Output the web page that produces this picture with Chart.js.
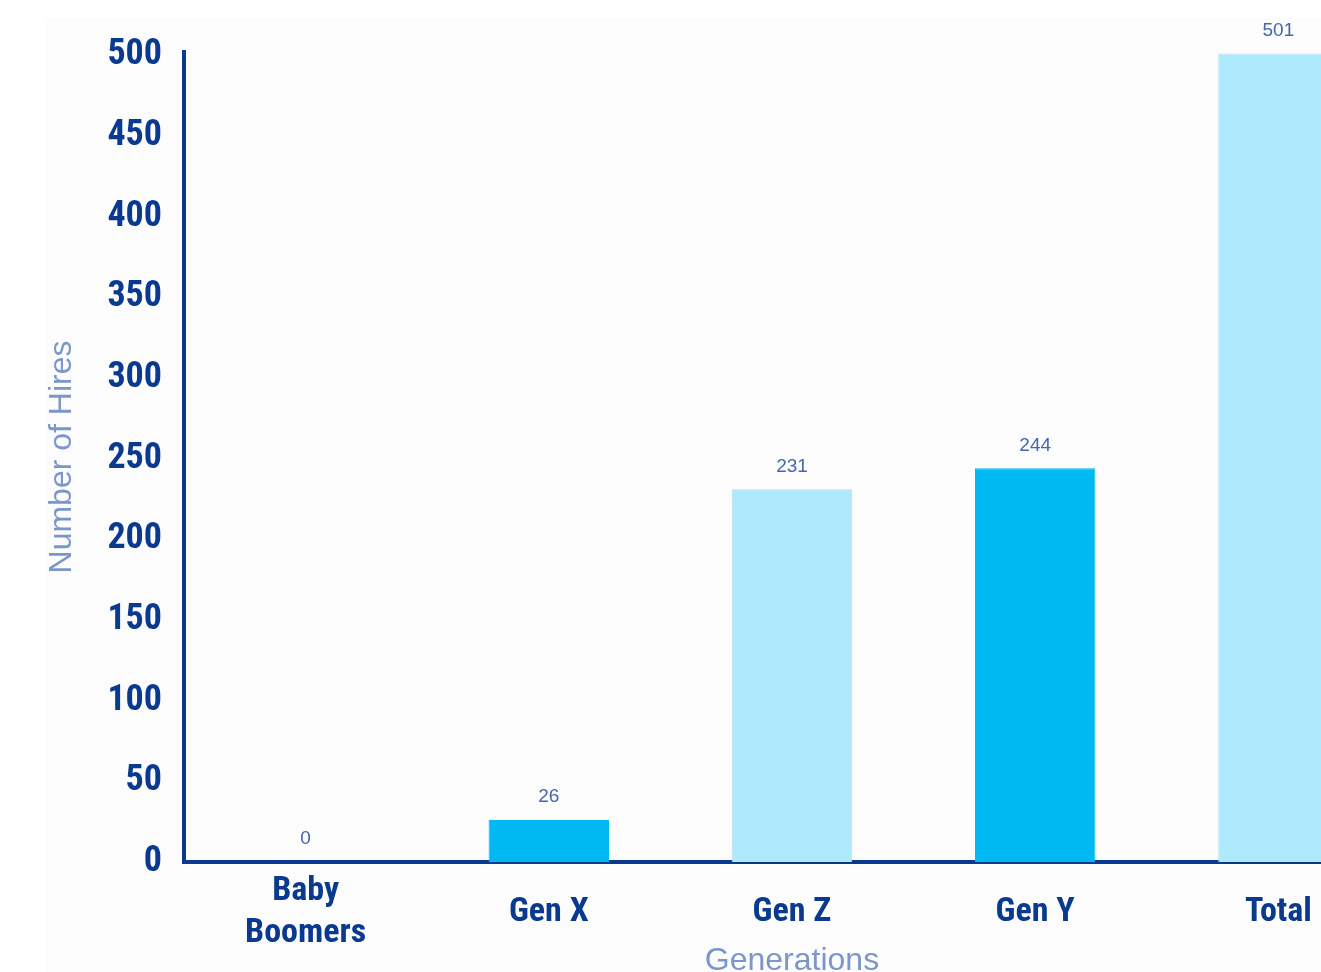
<!DOCTYPE html>
<html>
<head>
<meta charset="utf-8">
<title>Number of Hires by Generation</title>
<script src="https://cdn.jsdelivr.net/npm/chart.js@4.4.1/dist/chart.umd.min.js"></script>
<style>
  html, body { margin: 0; padding: 0; background: #ffffff; overflow: hidden; }
  #wrap { position: absolute; left: 0; top: 0; width: 1400px; height: 980px; }
</style>
</head>
<body>
<div id="wrap"><canvas id="hires-chart" width="1400" height="980"></canvas></div>
<script>
var generations = [['Baby', 'Boomers'], 'Gen X', 'Gen Z', 'Gen Y', 'Total'];
var hires = [0, 26, 231, 244, 501];
var yTicks = [0, 50, 100, 150, 200, 250, 300, 350, 400, 450, 500];

var navy = '#0a3990';
var barFill = ['#00b9f2', '#00b9f2', '#aeeafd', '#00b9f2', '#aeeafd'];
var barEdge = ['#00b9f2', '#00b9f2', '#bcdbe8', '#00b9f2', '#bcdbe8'];
var condensed = '"Liberation Sans Narrow", "Roboto Condensed", "DejaVu Sans Condensed", sans-serif';

// faint panel behind the plot
var panel = {
  id: 'panel',
  beforeDraw: function(chart) {
    var ctx = chart.ctx;
    ctx.save();
    ctx.fillStyle = '#fcfcfd';
    ctx.fillRect(45, 18, chart.width - 45, chart.height - 18);
    ctx.restore();
  }
};

// value printed above each bar
var valueLabels = {
  id: 'valueLabels',
  afterDatasetsDraw: function(chart) {
    var ctx = chart.ctx;
    var meta = chart.getDatasetMeta(0);
    ctx.save();
    ctx.font = '19px "Liberation Sans", Arial, sans-serif';
    ctx.fillStyle = '#4468ad';
    ctx.textAlign = 'center';
    ctx.textBaseline = 'middle';
    meta.data.forEach(function(bar, i) {
      ctx.fillText(String(hires[i]), bar.x, bar.y - 23);
    });
    ctx.restore();
  }
};

new Chart(document.getElementById('hires-chart').getContext('2d'), {
  type: 'bar',
  data: {
    labels: generations,
    datasets: [{
      label: 'Number of Hires',
      data: hires,
      backgroundColor: barFill,
      borderColor: barEdge,
      borderWidth: 1,
      borderSkipped: 'bottom',
      categoryPercentage: 0.5,
      barPercentage: 0.99
    }]
  },
  plugins: [panel, valueLabels],
  options: {
    responsive: false,
    animation: false,
    layout: { padding: { left: 0, right: 0, top: 52, bottom: 0 } },
    plugins: {
      legend: { display: false },
      tooltip: { enabled: false }
    },
    scales: {
      x: {
        grid: { display: false, drawTicks: false },
        border: { display: true, color: navy, width: 4 },
        ticks: {
          color: navy,
          padding: 29,
          crossAlign: 'center',
          maxRotation: 0,
          font: { family: condensed, size: 34, weight: 'bold', lineHeight: 1.25 }
        },
        title: {
          display: true,
          text: 'Generations',
          color: '#7b97c9',
          font: { family: '"Liberation Sans", Arial, sans-serif', size: 32 },
          padding: { top: 0, bottom: 0 }
        },
        afterFit: function(scale) { scale.height = 118; }
      },
      y: {
        min: 0,
        max: 502,
        grid: { display: false, drawTicks: false },
        border: { display: true, color: navy, width: 4 },
        afterBuildTicks: function(scale) {
          scale.ticks = yTicks.map(function(v) { return { value: v }; });
        },
        ticks: {
          color: navy,
          padding: 22,
          font: { family: condensed, size: 36, weight: 'bold' }
        },
        title: {
          display: true,
          text: 'Number of Hires',
          color: '#7b97c9',
          font: { family: '"Liberation Sans", Arial, sans-serif', size: 32 },
          padding: { top: 43, bottom: 0 }
        },
        afterFit: function(scale) { scale.width = 184; }
      }
    }
  }
});
</script>
</body>
</html>
